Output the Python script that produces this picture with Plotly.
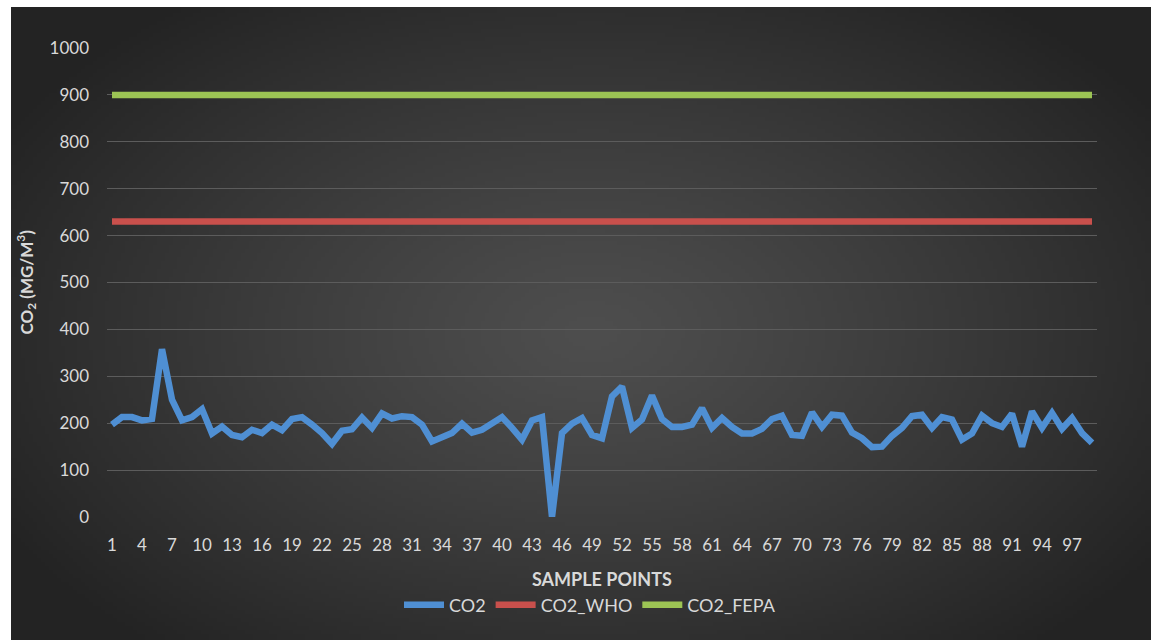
import base64
import struct
import zlib

import numpy as np
import plotly.graph_objects as go

# ---- data -------------------------------------------------------------
sample_points = list(range(1, 100))
co2 = [
    197, 213, 213, 206, 209, 358, 250, 206, 213, 230,
    178, 193, 175, 170, 186, 179, 197, 185, 209, 213,
    197, 179, 156, 184, 187, 212, 190, 221, 210, 215,
    213, 197, 161, 170, 179, 199, 180, 186, 198, 213,
    190, 165, 206, 213, 0, 179, 199, 211, 175, 168,
    257, 278, 190, 208, 259, 209, 192, 192, 197, 232,
    190, 211, 192, 178, 178, 188, 209, 216, 175, 173,
    223, 192, 218, 216, 180, 168, 149, 150, 173, 190,
    215, 218, 190, 213, 208, 165, 178, 216, 200, 192,
    220, 150, 225, 190, 222, 188, 211, 179, 158,
]
co2_who = [630] * len(sample_points)
co2_fepa = [900] * len(sample_points)

x_tick_labels = [str(v) for v in range(1, 100, 3)]
y_tick_values = list(range(0, 1001, 100))

# ---- page geometry (pixels) -------------------------------------------
W, H = 1151, 640
PL, PR, PT, PB = 107, 1097, 48, 517          # plot area edges
BG_X0, BG_Y0 = 11, 7                          # dark chart panel origin


def to_px(px):
    return (px - PL) / (PR - PL)


def to_py(py):
    return (PB - py) / (PB - PT)


# ---- radial-gradient panel background, encoded as a PNG -------------------
def png_uri(rgb):
    h, w, _ = rgb.shape
    raw = b"".join(b"\x00" + rgb[r].tobytes() for r in range(h))

    def chunk(tag, data):
        body = tag + data
        return struct.pack(">I", len(data)) + body + struct.pack(">I", zlib.crc32(body) & 0xFFFFFFFF)

    png = (b"\x89PNG\r\n\x1a\n"
           + chunk(b"IHDR", struct.pack(">IIBBBBB", w, h, 8, 2, 0, 0, 0))
           + chunk(b"IDAT", zlib.compress(raw, 9))
           + chunk(b"IEND", b""))
    return "data:image/png;base64," + base64.b64encode(png).decode()


scale = 4
bw, bh = (W - BG_X0) // scale, (H - BG_Y0) // scale
yy, xx = np.mgrid[0:bh, 0:bw].astype(float) * scale
cx, cy = 590 - BG_X0, 330 - BG_Y0
t = np.sqrt(((xx - cx) / 680.0) ** 2 + ((yy - cy) / 420.0) ** 2)
t = np.clip(t, 0, 1) ** 1.2
shade = (0x4e - (0x4e - 0x23) * t).astype(np.uint8)
bg = np.dstack([shade, shade, shade])
bg_uri = png_uri(bg)

# ---- figure -------------------------------------------------------------
FONT = "Lato, 'Open Sans', sans-serif"
TEXT = "#d9d9d9"
LW = 6.5

fig = go.Figure()
fig.add_trace(go.Scatter(x=sample_points, y=co2, name="CO2", mode="lines",
                         line=dict(color="#4f8fd3", width=LW)))
fig.add_trace(go.Scatter(x=sample_points, y=co2_who, name="CO2_WHO", mode="lines",
                         line=dict(color="#c9504c", width=LW)))
fig.add_trace(go.Scatter(x=sample_points, y=co2_fepa, name="CO2_FEPA", mode="lines",
                         line=dict(color="#9cc454", width=LW)))

fig.add_layout_image(dict(
    source=bg_uri, xref="paper", yref="paper",
    x=to_px(BG_X0), y=to_py(BG_Y0),
    sizex=(W - BG_X0) / (PR - PL), sizey=(H - BG_Y0) / (PB - PT),
    xanchor="left", yanchor="top", sizing="stretch", layer="below",
))

fig.update_layout(
    width=W, height=H, autosize=False,
    margin=dict(l=PL, r=W - PR, t=PT, b=H - PB, pad=0),
    paper_bgcolor="white",
    plot_bgcolor="rgba(0,0,0,0)",
    font=dict(family=FONT, size=16, color=TEXT),
    showlegend=True,
    legend=dict(orientation="h", x=to_px(590), xanchor="center",
                y=to_py(605), yanchor="middle",
                font=dict(family=FONT, size=18, color=TEXT),
                bgcolor="rgba(0,0,0,0)", itemwidth=40, tracegroupgap=0),
    xaxis=dict(
        range=[0.5, 99.5], tickmode="array",
        tickvals=[int(v) for v in x_tick_labels], ticktext=x_tick_labels,
        showgrid=False, zeroline=False, showline=False, ticks="",
        ticklabelstandoff=16,
        tickfont=dict(family=FONT, size=17, color=TEXT),
    ),
    yaxis=dict(
        range=[0, 1000], tickvals=y_tick_values,
        showgrid=True, gridcolor="#5c5c5c", gridwidth=1,
        zeroline=False, showline=False, ticks="",
        ticklabelstandoff=17,
        tickfont=dict(family=FONT, size=17, color=TEXT),
    ),
    annotations=[
        dict(text="<b>SAMPLE POINTS</b>", xref="paper", yref="paper",
             x=0.5, y=to_py(579), xanchor="center", yanchor="middle",
             showarrow=False, font=dict(family=FONT, size=18, color=TEXT)),
        dict(text="<b>CO<sub>2</sub> (MG/M<sup>3</sup>)</b>", xref="paper", yref="paper",
             x=to_px(26), y=0.5, xanchor="center", yanchor="middle", textangle=-90,
             showarrow=False, font=dict(family=FONT, size=17, color=TEXT)),
    ],
)

fig.write_html("out.html")
